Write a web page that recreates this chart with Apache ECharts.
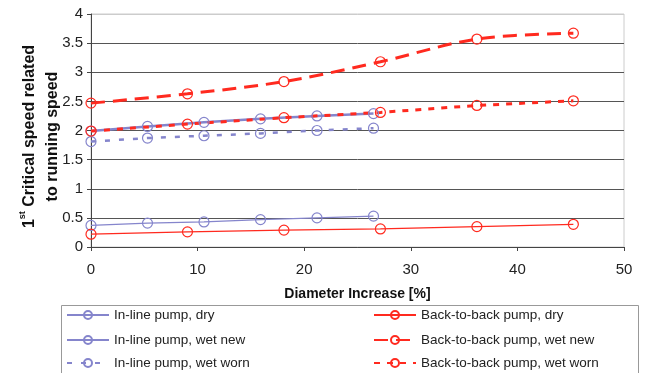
<!DOCTYPE html>
<html><head><meta charset="utf-8">
<script src="https://cdn.jsdelivr.net/npm/echarts@6/dist/echarts.min.js"></script>
<style>html,body{margin:0;padding:0;background:#fff}#c{width:649px;height:373px}</style>
</head><body><div id="c"></div>
<script>
const inlineX = [0, 5.3, 10.6, 15.9, 21.2, 26.5];
const b2bX = [0, 9.05, 18.1, 27.15, 36.2, 45.25];
const inlineDry = [0.37, 0.41, 0.43, 0.47, 0.50, 0.53];
const inlineWetNew = [1.99, 2.07, 2.14, 2.20, 2.25, 2.29];
const inlineWetWorn = [1.81, 1.87, 1.91, 1.95, 2.00, 2.04];
const b2bDry = [0.22, 0.26, 0.29, 0.31, 0.35, 0.39];
const b2bWetNew = [2.47, 2.63, 2.84, 3.18, 3.57, 3.67];
const b2bWetWorn = [1.99, 2.11, 2.22, 2.31, 2.43, 2.51];
const seriesNames = ['In-line pump, dry','In-line pump, wet new','In-line pump, wet worn','Back-to-back pump, dry','Back-to-back pump, wet new','Back-to-back pump, wet worn'];
const yTicks = [0,0.5,1,1.5,2,2.5,3,3.5,4];
const xTicks = [0,10,20,30,40,50];

const BLUE = '#8585cc', RED = '#ff2a1f';
function pts(xs, ys){ return xs.map((x,i)=>[x, ys[i]]); }
function mk(name, xs, ys, color, width, type, smooth){
  return {name, type:'line', data: pts(xs, ys), symbol:'circle', symbolSize:10,
    smooth: smooth||false,
    itemStyle:{color:'rgba(255,255,255,0)', borderColor:color, borderWidth:1.2},
    lineStyle:{color, width, type}, emphasis:{disabled:true}};
}
const chart = echarts.init(document.getElementById('c'));
const gridColors = yTicks.map((v,i)=> i===yTicks.length-1 ? '#cccccc' : '#555555');
const legendPos = [[66,307],[66,332],[66,355],[373,307],[373,332],[373,355]];
const legends = seriesNames.map((n,i)=>({
  orient:'horizontal', left:legendPos[i][0], top:legendPos[i][1], padding:0, itemWidth:42, itemHeight:10, itemGap:0,
  data:[n], textStyle:{fontSize:13.5, color:'#222', lineHeight:16}
}));
chart.setOption({
  animation:false,
  textStyle:{fontFamily:'Liberation Sans, Arial, sans-serif'},
  grid:{left:91, right:25, top:14, bottom:126, show:true, borderColor:'#cccccc', borderWidth:1,
    containLabel:false, outerBoundsMode:'none'},
  xAxis:{type:'value', min:0, max:50, interval:10,
    name:'Diameter Increase [%]', nameLocation:'middle', nameGap:40, nameMoveOverlap:false,
    nameTextStyle:{fontWeight:'bold', fontSize:14, color:'#111'},
    axisLine:{lineStyle:{color:'#444'}}, axisTick:{show:true, length:4, lineStyle:{color:'#444'}},
    axisLabel:{fontSize:15, color:'#222', margin:15}, splitLine:{show:false}},
  yAxis:{type:'value', min:0, max:4, interval:0.5,
    name:'{b|1}{s|st}{b| Critical speed related}\n{b|to running speed}', nameLocation:'middle', nameGap:27, nameRotate:90,
    nameMoveOverlap:false,
    nameTextStyle:{color:'#111', lineHeight:23, padding:[0,12,0,0], rich:{
      b:{fontWeight:'bold', fontSize:16, color:'#111', lineHeight:23},
      s:{fontWeight:'bold', fontSize:9, color:'#111', verticalAlign:'top', lineHeight:23}}},
    axisLine:{show:true, lineStyle:{color:'#444'}}, axisTick:{show:true, length:4, lineStyle:{color:'#444'}},
    axisLabel:{fontSize:15, color:'#222', margin:8},
    splitLine:{show:true, lineStyle:{color:gridColors, width:1}}},
  legend: legends,
  graphic:[{type:'rect', shape:{x:61.5, y:305.5, width:577, height:80}, style:{fill:'none', stroke:'#999', lineWidth:1}, silent:true}],
  series:[
    mk(seriesNames[0], inlineX, inlineDry, BLUE, 1.3, 'solid'),
    mk(seriesNames[1], inlineX, inlineWetNew, BLUE, 2.5, 'solid'),
    mk(seriesNames[2], inlineX, inlineWetWorn, BLUE, 2.5, [5,9]),
    mk(seriesNames[3], b2bX, b2bDry, RED, 1.3, 'solid'),
    mk(seriesNames[4], b2bX, b2bWetNew, RED, 3, [14,8], 0.35),
    mk(seriesNames[5], b2bX, b2bWetWorn, RED, 3, [6,7])
  ]
});
</script></body></html>
